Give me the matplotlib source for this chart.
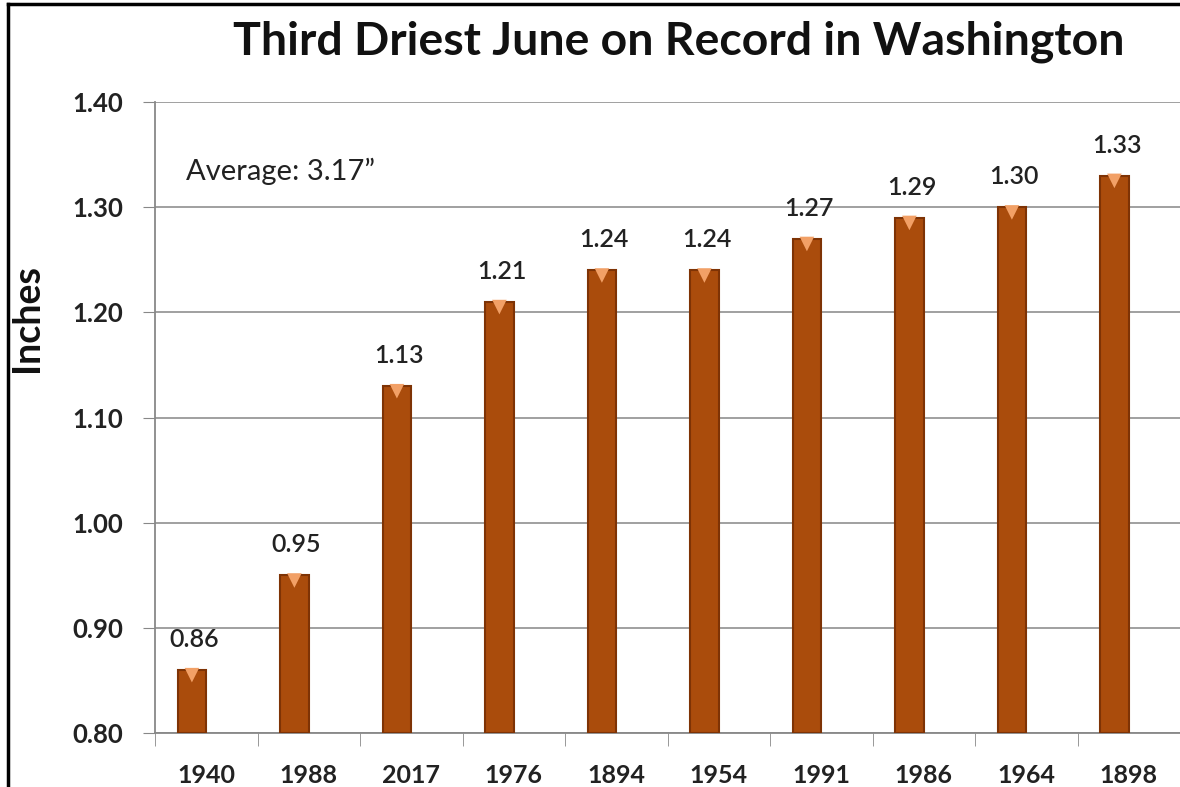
import matplotlib.pyplot as plt
import numpy as np
from matplotlib.lines import Line2D

# data
years = ["1940", "1988", "2017", "1976", "1894", "1954", "1991", "1986", "1964", "1898"]
rain = [0.86, 0.95, 1.13, 1.21, 1.24, 1.24, 1.27, 1.29, 1.30, 1.33]
yticks = [0.80, 0.90, 1.00, 1.10, 1.20, 1.30, 1.40]

plt.rcParams['font.family'] = ['Lato', 'DejaVu Sans']

W, H = 1180, 787
fig = plt.figure(figsize=(W / 100, H / 100), dpi=100)
ax = fig.add_axes([155 / W, 54 / H, (1180 - 155) / W, (733 - 102) / H])

x = np.arange(len(years))
bar_x = x - 0.14
ax.bar(bar_x, [r - 0.8 for r in rain], bottom=0.8, width=0.28,
       color="#AA4C0C", edgecolor="#7E3305", linewidth=1.5, zorder=3)
# light bevel on top of each bar
ax.scatter(bar_x, [r - 0.005 for r in rain], marker="v", s=110, color="#F2A066",
           edgecolors="none", zorder=4)

for bx, r in zip(bar_x, rain):
    ax.text(bx + 0.02, r + 0.018, f"{r:.2f}", ha="center", va="bottom",
            fontsize=18, fontweight="semibold", color="#222222")

ax.text(0.03, 0.89, "Average: 3.17\u201d", transform=ax.transAxes,
        fontsize=21, color="#222222", va="center")

ax.set_ylim(0.80, 1.40)
ax.set_yticks(yticks)
ax.set_yticklabels([f"{t:.2f}" for t in yticks], fontsize=18.5, fontweight="bold",
                   color="#222222")
ax.set_xlim(-0.5, 9.45)
ax.set_xticks(x)
ax.set_xticklabels(years, fontsize=18, fontweight="bold", color="#222222")
ax.set_xticks(np.arange(-0.5, 10, 1), minor=True)
ax.tick_params(axis="x", which="major", length=0, pad=22)
ax.tick_params(axis="x", which="minor", length=9, color="#888888", direction="out")
ax.tick_params(axis="y", length=9, color="#888888", direction="out", pad=14)

ax.grid(axis="y", color="#999999", linewidth=1.3, zorder=0)
ax.set_axisbelow(True)
for s in ["top", "right"]:
    ax.spines[s].set_visible(False)
for s in ["left", "bottom"]:
    ax.spines[s].set_color("#888888")
    ax.spines[s].set_linewidth(1.3)

fig.text(27 / W, 1 - 318 / H, "Inches", rotation=90, ha="center", va="center",
         fontsize=27, fontweight="bold", color="#111111")
fig.text(679 / W, 1 - 42 / H, "Third Driest June on Record in Washington",
         ha="center", va="center", fontsize=33.4, fontweight="bold", color="#111111")

# frame lines at left and top
fig.add_artist(Line2D([8 / W, 8 / W], [0, 1 - 4 / H], transform=fig.transFigure,
                      color="black", linewidth=2.5))
fig.add_artist(Line2D([8 / W, 1], [1 - 4 / H, 1 - 4 / H], transform=fig.transFigure,
                      color="black", linewidth=2.5))

fig.savefig("out.png", dpi=100)
